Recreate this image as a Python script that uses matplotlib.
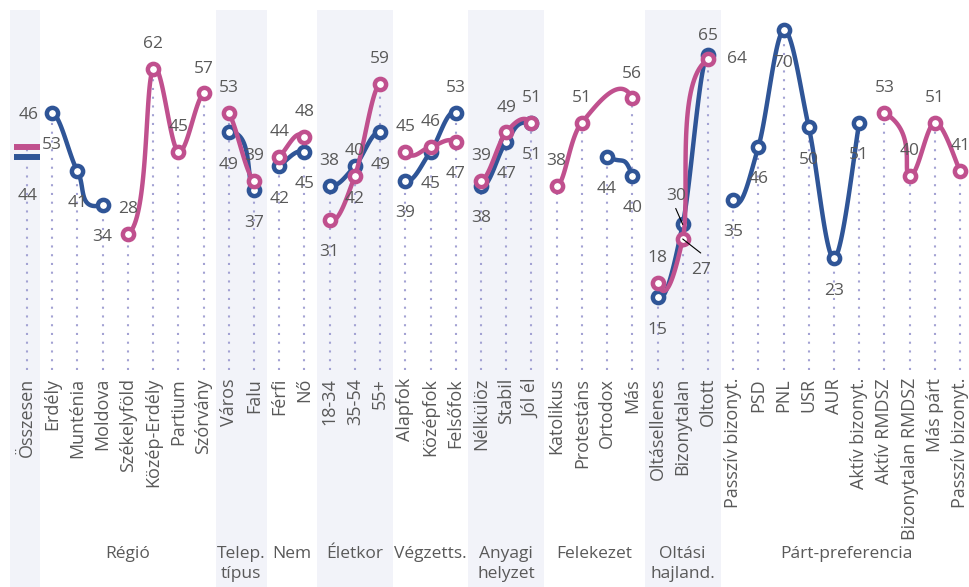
#!/usr/bin/env python3

import matplotlib
matplotlib.use("Agg")
import matplotlib.pyplot as plt
import numpy as np
from matplotlib.patches import Rectangle


categories = [
    "Összesen",
    "Erdély", "Munténia", "Moldova", "Székelyföld", "Közép-Erdély", "Partium", "Szórvány",
    "Város", "Falu",
    "Férfi", "Nő",
    "18-34", "35-54", "55+",
    "Alapfok", "Középfok", "Felsőfok",
    "Nélkülöz", "Stabil", "Jól él",
    "Katolikus", "Protestáns", "Ortodox", "Más",
    "Oltásellenes", "Bizonytalan", "Oltott",
    "Passzív bizonyt.", "PSD", "PNL", "USR", "AUR", "Aktív bizonyt.",
    "Aktív RMDSZ", "Bizonytalan RMDSZ", "Más párt", "Passzív bizonyt.",
]

# (group label, first category, last category)
groups = [
    ("", 0, 0),
    ("Régió", 1, 7),
    ("Telep.\ntípus", 8, 9),
    ("Nem", 10, 11),
    ("Életkor", 12, 14),
    ("Végzetts.", 15, 17),
    ("Anyagi\nhelyzet", 18, 20),
    ("Felekezet", 21, 24),
    ("Oltási\nhajland.", 25, 27),
    ("Párt-preferencia", 28, 37),
]
shaded_groups = [0, 2, 4, 6, 8]

blue_vals = [44, 53, 41, 34, None, None, None, None, 49, 37, 42, 45, 38, 42, 49,
             39, 45, 53, 38, 47, 51, None, None, 44, 40, 15, 30, 65,
             35, 46, 70, 50, 23, 51, None, None, None, None]
pink_vals = [46, None, None, None, 28, 62, 45, 57, 53, 39, 44, 48, 31, 40, 59,
             45, 46, 47, 39, 49, 51, 38, 51, None, 56, 18, 27, 64,
             None, None, None, None, None, None, 53, 40, 51, 41]

# label placement: 'a' above, 'b' below, anything else looked up in SPECIAL
blue_pos = ["s"] + ["b"] * 11 + ["a", "b", "b", "b", "b", "a"] + ["b"] * 8 + ["s", "s"] + ["b"] * 10
pink_pos = ["s"] + ["a"] * 11 + ["b", "a", "a", "a", "a", "b"] + ["a"] * 8 + ["s", "s"] + ["a"] * 10

BLUE = "#2F5597"
PINK = "#C0508E"
TEXT = "#595959"
BAND = "#F2F3F9"
DROP = "#A3A2D3"
FS = 12.5
FS_CAT = 13.0

# pixel offsets of label centre (x right, y down)
OFFSETS = {"a": (0, -27), "b": (0, 30)}
SPECIAL = {
    ("blue", 0): (1, 37, False),
    ("pink", 0): (2, -34, False),
    ("blue", 26): (-7, -31, True),
    ("pink", 26): (18, 29, True),
    ("blue", 27): (0, -21, False),
    ("pink", 27): (29, -3, False),
}

plt.rcParams["font.family"] = ["Open Sans", "DejaVu Sans"]

W, H = 969, 587
LEFT, TOP, BOTTOM = 10, 10, 370
X0, STEP = 27, 25.22

fig = plt.figure(figsize=(W / 100, H / 100), dpi=100)
ax = fig.add_axes([LEFT / W, 1 - BOTTOM / H, (W - LEFT) / W, (BOTTOM - TOP) / H])
ax.set_xlim((LEFT - X0) / STEP, (W - X0) / STEP)
ax.set_ylim(0, 74.2)
ax.set_axis_off()

n = len(categories)
group_of = np.zeros(n, dtype=int)
for gi, (_, a, b) in enumerate(groups):
    group_of[a:b + 1] = gi

# background bands, reaching down through the labels
xtrans = ax.get_xaxis_transform()
ybot = -(H - BOTTOM) / (BOTTOM - TOP)
for gi in shaded_groups:
    _, a, b = groups[gi]
    xa = ax.get_xlim()[0] if a == 0 else a - 0.5
    ax.add_patch(Rectangle((xa, ybot), b + 0.5 - xa, 1 - ybot, transform=xtrans,
                           facecolor=BAND, edgecolor="none", clip_on=False, zorder=0))

# drop lines
for i in range(n):
    vals = [v for v in (blue_vals[i], pink_vals[i]) if v is not None]
    ax.vlines(i, 0, max(vals), colors=DROP, linestyles=(0, (1, 3.2)), lw=1.5, zorder=1)


def bezier(p0, p1, p2, p3, num=40):
    c1 = p1 + (p2 - p0) / 6
    c2 = p2 - (p3 - p1) / 6
    t = np.linspace(0, 1, num)[:, None]
    return (1 - t) ** 3 * p1 + 3 * (1 - t) ** 2 * t * c1 + 3 * (1 - t) * t ** 2 * c2 + t ** 3 * p2


def draw_series(vals, pos, color, name, z):
    idx = [i for i, v in enumerate(vals) if v is not None]
    pts = ax.transData.transform(np.array([[i, vals[i]] for i in idx], dtype=float))
    inv = ax.transData.inverted()
    for k in range(len(idx) - 1):
        i, j = idx[k], idx[k + 1]
        if group_of[i] != group_of[j] or group_of[i] == 0:
            continue
        p0 = pts[k - 1] if k > 0 else pts[k]
        p3 = pts[k + 2] if k + 2 < len(idx) else pts[k + 1]
        curve = inv.transform(bezier(p0, pts[k], pts[k + 1], p3))
        ax.plot(curve[:, 0], curve[:, 1], color=color, lw=3.2,
                solid_capstyle="round", zorder=z)

    for i in idx:
        if i == 0:
            ax.plot(i, vals[i], marker="_", ms=19.4, mew=4.3, color=color, zorder=z + 0.5)
        else:
            ax.plot(i, vals[i], marker="o", ms=8.1, mew=3.2, mfc="white", mec=color,
                    zorder=z + 0.5)

        if pos[i] in OFFSETS:
            dx, dy = OFFSETS[pos[i]]
            leader = False
        else:
            dx, dy, leader = SPECIAL[(name, i)]
        ax.annotate(str(vals[i]), xy=(i, vals[i]), xytext=(dx, -(dy + 6.3)),
                    textcoords="offset pixels", ha="center", va="baseline",
                    fontsize=FS, color=TEXT, zorder=6)
        if leader:
            sgn = 1 if dy < 0 else -1
            ax.annotate("", xy=(i, vals[i]), xytext=(dx, -(dy + sgn * 15)),
                        textcoords="offset pixels",
                        arrowprops=dict(arrowstyle="-", color="black", lw=0.8,
                                        shrinkA=0, shrinkB=0), zorder=7)


draw_series(blue_vals, blue_pos, BLUE, "blue", 3)
draw_series(pink_vals, pink_pos, PINK, "pink", 4)

# category labels
cat_y = (BOTTOM - 378) / (BOTTOM - TOP)
for i, c in enumerate(categories):
    ax.text(i, cat_y, c, transform=xtrans, rotation=90, ha="center", va="top",
            fontsize=FS_CAT, color=TEXT)

# group labels
grp_y = (BOTTOM - 546) / (BOTTOM - TOP)
for label, a, b in groups:
    if label:
        ax.text((a + b) / 2, grp_y, label, transform=xtrans, ha="center", va="top",
                fontsize=FS, color=TEXT, linespacing=1.3, multialignment="center")

fig.savefig("out.png", dpi=100)
